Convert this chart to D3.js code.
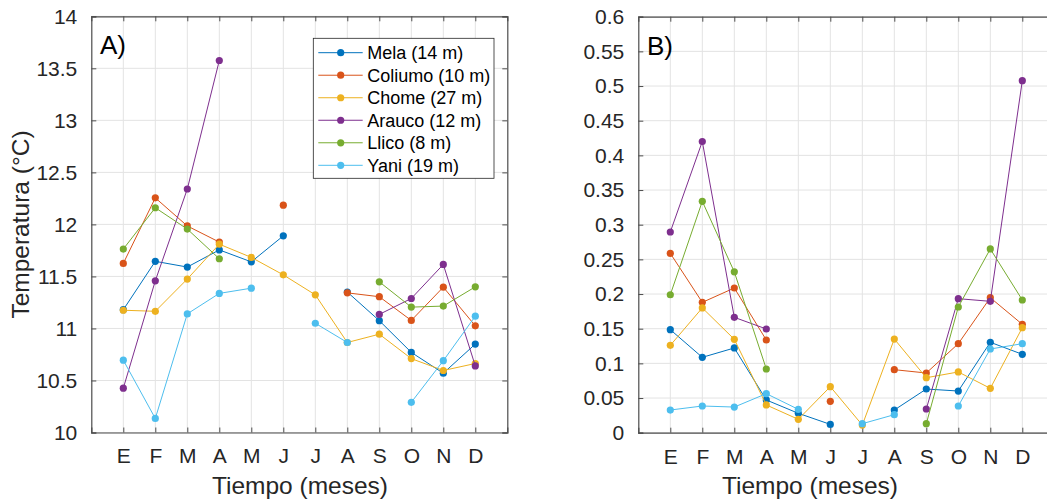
<!DOCTYPE html>
<html><head><meta charset="utf-8">
<script src="https://cdn.jsdelivr.net/npm/d3@7"></script>
<style>
body{margin:0;background:#fff;}
svg{display:block;font-family:"Liberation Sans",Arial,Helvetica,sans-serif;}
</style></head>
<body><svg id="chart" width="1047" height="500"></svg>
<script>
// ---------- data ----------
const months = ["E","F","M","A","M","J","J","A","S","O","N","D"];
const seriesNames = ["Mela (14 m)","Coliumo (10 m)","Chome (27 m)","Arauco (12 m)","Llico (8 m)","Yani (19 m)"];
const seriesColors = ["#0072BD","#D95319","#EDB120","#7E2F8E","#77AC30","#4DBEEE"];

// Panel A: temperature (°C)
const melaT    = [11.18, 11.645, 11.59, 11.755, 11.64, 11.89, null, 11.35, 11.075, 10.77, 10.57, 10.85];
const coliumoT = [11.625, 12.255, 11.985, 11.83, null, 12.185, null, 11.342, 11.305, 11.077, 11.397, 11.025];
const chomeT   = [11.175, 11.165, 11.475, 11.81, 11.683, 11.515, 11.323, 10.865, 10.945, 10.71, 10.596, 10.663];
const araucoT  = [10.426, 11.458, 12.34, 13.575, null, null, null, null, 11.135, 11.288, 11.615, 10.64];
const llicoT   = [11.763, 12.16, 11.955, 11.67, null, null, null, null, 11.448, 11.205, 11.215, 11.4];
const yaniT    = [10.695, 10.135, 11.14, 11.337, 11.387, null, 11.05, 10.865, null, 10.29, 10.69, 11.118];

// Panel B
const melaB    = [0.1486, 0.1087, 0.1222, 0.0472, 0.028, 0.012, null, 0.0327, 0.063, 0.0601, 0.1304, 0.1131];
const coliumoB = [0.2587, 0.188, 0.2087, 0.1337, null, 0.0453, null, 0.0909, 0.0861, 0.1284, 0.1947, 0.1563];
const chomeB   = [0.126, 0.18, 0.1347, 0.04, 0.0193, 0.0664, 0.011, 0.1351, 0.0793, 0.0876, 0.064, 0.1515];
const araucoB  = [0.2895, 0.420, 0.1664, 0.1496, null, null, null, null, 0.0342, 0.1933, 0.1895, 0.5077];
const llicoB   = [0.199, 0.3337, 0.232, 0.0919, null, null, null, null, 0.013, 0.1813, 0.265, 0.1914];
const yaniB    = [0.0327, 0.0385, 0.037, 0.0563, 0.0337, null, 0.013, 0.026, null, 0.0385, 0.1207, 0.1284];

const yTicksA = [10, 10.5, 11, 11.5, 12, 12.5, 13, 13.5, 14];
const yTicksB = [0, 0.05, 0.1, 0.15, 0.2, 0.25, 0.3, 0.35, 0.4, 0.45, 0.5, 0.55, 0.6];

// ---------- drawing ----------
const svg = d3.select("#chart");
const axisColor = "#4d4d4d", textColor = "#262626", gridColor = "#e3e3e3";

function panel(opts){
  const x = d3.scaleLinear().domain([0,13]).range([opts.x0, opts.x1]);
  const y = d3.scaleLinear().domain(opts.yDomain).range([opts.y0, opts.y1]);
  const g = svg.append("g");
  const monthIdx = d3.range(1,13);

  // grid
  g.append("g").selectAll("line.vg").data(monthIdx).join("line")
    .attr("x1",d=>x(d)).attr("x2",d=>x(d)).attr("y1",opts.y0).attr("y2",opts.y1)
    .attr("stroke",gridColor).attr("stroke-width",1);
  g.append("g").selectAll("line.hg").data(opts.yTicks).join("line")
    .attr("x1",opts.x0).attr("x2",opts.x1).attr("y1",d=>y(d)).attr("y2",d=>y(d))
    .attr("stroke",gridColor).attr("stroke-width",1);

  // axes (box, inward ticks)
  const tickLen = 5;
  const xb = d3.axisBottom(x).tickValues(monthIdx).tickSize(-tickLen).tickFormat(d=>months[d-1]).tickPadding(16);
  const xt = d3.axisTop(x).tickValues(monthIdx).tickSize(-tickLen).tickFormat("");
  const yl = d3.axisLeft(y).tickValues(opts.yTicks).tickSize(-tickLen).tickFormat(opts.fmt).tickPadding(14);
  const yr = d3.axisRight(y).tickValues(opts.yTicks).tickSize(-tickLen).tickFormat("");
  const axes = [
    g.append("g").attr("transform",`translate(0,${opts.y0})`).call(xb),
    g.append("g").attr("transform",`translate(0,${opts.y1})`).call(xt),
    g.append("g").attr("transform",`translate(${opts.x0},0)`).call(yl),
    g.append("g").attr("transform",`translate(${opts.x1},0)`).call(yr)
  ];
  axes.forEach(a=>{
    a.select(".domain").attr("stroke",axisColor).attr("stroke-width",1.2);
    a.selectAll(".tick line").attr("stroke",axisColor).attr("stroke-width",1);
    a.selectAll(".tick text").attr("fill",textColor).attr("font-size",21).attr("font-family","Liberation Sans, Arial, sans-serif");
  });

  // series
  const line = d3.line().defined(d=>d.v!=null).x(d=>x(d.m)).y(d=>y(d.v));
  opts.series.forEach((vals,i)=>{
    const pts = vals.map((v,k)=>({m:k+1,v:v}));
    g.append("path").datum(pts).attr("d",line).attr("fill","none")
      .attr("stroke",seriesColors[i]).attr("stroke-width",1);
    g.append("g").selectAll("circle").data(pts.filter(p=>p.v!=null)).join("circle")
      .attr("cx",d=>x(d.m)).attr("cy",d=>y(d.v)).attr("r",3.6).attr("fill",seriesColors[i]);
  });

  // panel label
  g.append("text").attr("x",opts.lx).attr("y",opts.ly).attr("font-size",26).attr("fill","#000").text(opts.label);

  // x label
  g.append("text").attr("x",opts.xlabX).attr("y",494).attr("text-anchor","middle")
    .attr("font-size",24.5).attr("fill",textColor).text("Tiempo (meses)");
  return {x,y,g};
}

panel({x0:91.3,x1:507.3,y0:432.5,y1:16.3,yDomain:[10,14],yTicks:yTicksA,fmt:d3.format("~g"),
  series:[melaT,coliumoT,chomeT,araucoT,llicoT,yaniT],label:"A)",lx:100,ly:54,xlabX:300});
panel({x0:638.3,x1:1054.3,y0:432.7,y1:16.7,yDomain:[0,0.6],yTicks:yTicksB,fmt:d3.format("~g"),
  series:[melaB,coliumoB,chomeB,araucoB,llicoB,yaniB],label:"B)",lx:647,ly:55,xlabX:810});

// y label panel A
svg.append("text").attr("transform","translate(29,224.5) rotate(-90)").attr("text-anchor","middle")
  .attr("font-size",24.5).attr("fill",textColor).text("Temperatura (°C)");

// legend
const lg = svg.append("g");
lg.append("rect").attr("x",313.3).attr("y",38.3).attr("width",180.7).attr("height",140)
  .attr("fill","#fff").attr("stroke","#262626").attr("stroke-width",0.8);
const legendY = d3.scaleLinear().domain([0,5]).range([52.7,165.3]);
seriesNames.forEach((name,i)=>{
  const yy = legendY(i);
  lg.append("line").attr("x1",318.3).attr("x2",362.7).attr("y1",yy).attr("y2",yy)
    .attr("stroke",seriesColors[i]).attr("stroke-width",1);
  lg.append("circle").attr("cx",340.7).attr("cy",yy).attr("r",3.6).attr("fill",seriesColors[i]);
  lg.append("text").attr("x",367.3).attr("y",yy+6.5).attr("font-size",18).attr("fill","#000").text(name);
});
</script>
</body></html>
